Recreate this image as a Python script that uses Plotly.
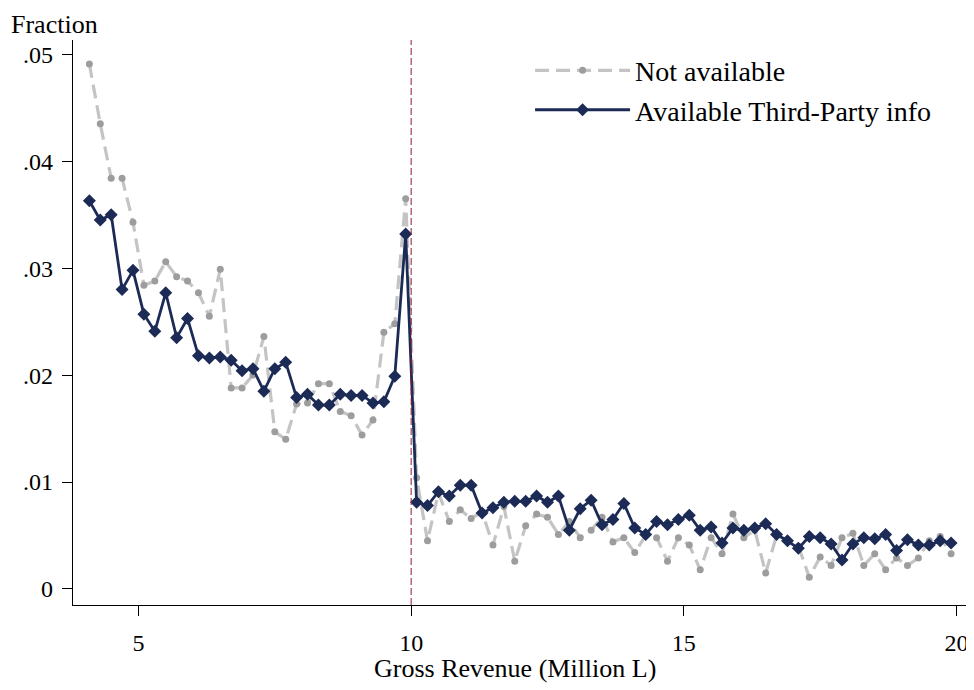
import plotly.graph_objects as go

# Bin midpoints (Gross revenue, million L)
revenue_bins = [
    4.1, 4.3, 4.5, 4.7, 4.9, 5.1, 5.3, 5.5, 5.7, 5.9,
    6.1, 6.3, 6.5, 6.7, 6.9, 7.1, 7.3, 7.5, 7.7, 7.9,
    8.1, 8.3, 8.5, 8.7, 8.9, 9.1, 9.3, 9.5, 9.7, 9.9,
    10.1, 10.3, 10.5, 10.7, 10.9, 11.1, 11.3, 11.5, 11.7, 11.9,
    12.1, 12.3, 12.5, 12.7, 12.9, 13.1, 13.3, 13.5, 13.7, 13.9,
    14.1, 14.3, 14.5, 14.7, 14.9, 15.1, 15.3, 15.5, 15.7, 15.9,
    16.1, 16.3, 16.5, 16.7, 16.9, 17.1, 17.3, 17.5, 17.7, 17.9,
    18.1, 18.3, 18.5, 18.7, 18.9, 19.1, 19.3, 19.5, 19.7, 19.9,
]

not_available = [
    0.0491, 0.0435, 0.0384, 0.0384, 0.0343, 0.0284, 0.0288, 0.0306, 0.0292, 0.0288,
    0.0277, 0.0255, 0.0299, 0.0188, 0.0188, 0.0200, 0.0236, 0.0147, 0.0140, 0.0173,
    0.0174, 0.0192, 0.0192, 0.0166, 0.0162, 0.0144, 0.0158, 0.0240, 0.0248, 0.0365,
    0.0104, 0.0045, 0.0090, 0.0063, 0.0074, 0.0066, 0.0072, 0.0041, 0.0077, 0.0026,
    0.0059, 0.0070, 0.0067, 0.0051, 0.0063, 0.0048, 0.0055, 0.0067, 0.0044, 0.0048,
    0.0034, 0.0050, 0.0048, 0.0026, 0.0048, 0.0041, 0.0018, 0.0048, 0.0033, 0.0070,
    0.0048, 0.0055, 0.0015, 0.0050, 0.0046, 0.0040, 0.0011, 0.0030, 0.0022, 0.0048,
    0.0052, 0.0022, 0.0033, 0.0018, 0.0029, 0.0022, 0.0029, 0.0045, 0.0049, 0.0033,
]

third_party = [
    0.0363, 0.0345, 0.0350, 0.0280, 0.0298, 0.0257, 0.0241, 0.0277, 0.0235, 0.0253,
    0.0218, 0.0216, 0.0217, 0.0214, 0.0204, 0.0206, 0.0185, 0.0206, 0.0212, 0.0179,
    0.0182, 0.0172, 0.0172, 0.0182, 0.0181, 0.0181, 0.0174, 0.0175, 0.0199, 0.0332,
    0.0081, 0.0078, 0.0091, 0.0087, 0.0097, 0.0097, 0.0071, 0.0076, 0.0081, 0.0082,
    0.0082, 0.0087, 0.0081, 0.0087, 0.0055, 0.0075, 0.0083, 0.0060, 0.0065, 0.0080,
    0.0057, 0.0051, 0.0063, 0.0060, 0.0065, 0.0069, 0.0055, 0.0058, 0.0043, 0.0057,
    0.0055, 0.0057, 0.0061, 0.0051, 0.0045, 0.0038, 0.0049, 0.0048, 0.0042, 0.0027,
    0.0042, 0.0048, 0.0047, 0.0051, 0.0036, 0.0046, 0.0041, 0.0041, 0.0045, 0.0043,
]

series_names = ["Not available", "Available Third-Party info"]
x_ticks = [5, 10, 15, 20]
y_tickvals = [0, 0.01, 0.02, 0.03, 0.04, 0.05]
y_ticktext = ["0", ".01", ".02", ".03", ".04", ".05"]
threshold = 10

FONT = "Liberation Serif"
GREY_LINE = "#c4c4c4"
GREY_MARK = "#9d9d9d"
NAVY = "#1c2b56"

fig = go.Figure()
fig.add_trace(go.Scatter(
    x=revenue_bins, y=not_available, name=series_names[0], mode="lines+markers",
    line=dict(color=GREY_LINE, width=3.2, dash="14px,7px"),
    marker=dict(symbol="circle", size=7, color=GREY_MARK),
))
fig.add_trace(go.Scatter(
    x=revenue_bins, y=third_party, name=series_names[1], mode="lines+markers",
    line=dict(color=NAVY, width=2.8),
    marker=dict(symbol="diamond", size=10, color=NAVY),
))

fig.add_shape(type="line", xref="x", yref="paper", x0=threshold, x1=threshold,
              y0=0, y1=1, line=dict(color="#8e1a35", width=1, dash="7px,3px"))

# The page body adds an 8px offset, so the figure is 8px smaller than the window
fig.add_annotation(text="Fraction", xref="paper", yref="paper",
                   x=-0.0705, y=1.027, xanchor="left", yanchor="middle",
                   showarrow=False, font=dict(family=FONT, size=26, color="black"))
fig.add_annotation(text="Gross Revenue (Million L)", xref="paper", yref="paper",
                   x=0.4906, y=-0.112, xanchor="center", yanchor="middle",
                   showarrow=False, font=dict(family=FONT, size=26, color="black"))

fig.update_layout(
    width=966, height=682,
    margin=dict(l=65, r=0, t=32, b=85),
    paper_bgcolor="white", plot_bgcolor="white",
    font=dict(family=FONT, size=24, color="black"),
    showlegend=True,
    legend=dict(x=0.5073, y=0.99, xanchor="left", yanchor="top",
                bgcolor="rgba(0,0,0,0)", font=dict(family=FONT, size=28),
                tracegroupgap=0, itemwidth=95),
    xaxis=dict(range=[3.8, 20.32], tickvals=x_ticks, showgrid=False, zeroline=False,
               showline=True, linecolor="black", linewidth=1.3, ticks="outside",
               ticklen=10, tickwidth=1.3, tickcolor="black", ticklabelstandoff=6,
               tickfont=dict(family=FONT, size=24)),
    yaxis=dict(range=[-0.0015, 0.05134], tickvals=y_tickvals, ticktext=y_ticktext,
               showgrid=False, zeroline=False, showline=True, linecolor="black",
               linewidth=1.3, ticks="outside", ticklen=10, tickwidth=1.3,
               tickcolor="black", ticklabelstandoff=4,
               tickfont=dict(family=FONT, size=24)),
)

fig.write_html("out.html")
